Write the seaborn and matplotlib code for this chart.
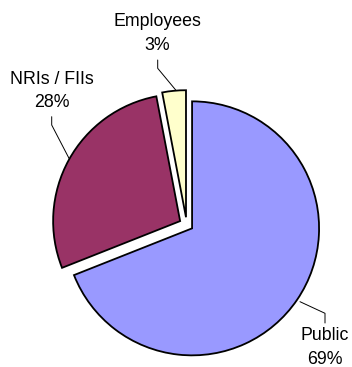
import matplotlib
matplotlib.use("Agg")
import matplotlib.pyplot as plt
import seaborn as sns

# ---- data ----
categories = ["Public", "NRIs / FIIs", "Employees"]
shares = [69, 28, 3]
colors = ["#9999FF", "#993366", "#FFFFCC"]

sns.set_theme(style="white")
plt.rcParams["font.family"] = ["Liberation Sans", "DejaVu Sans"]

W, H = 352, 367
fig = plt.figure(figsize=(W / 100, H / 100), dpi=100)
ax = fig.add_axes([0, 0, 1, 1])
ax.set_xlim(0, W)
ax.set_ylim(0, H)
ax.set_axis_off()

def Y(v):  # image pixel row -> data y
    return H - v

center = (186.7, Y(224.7))
radius = 127
explode = [6.5, 7.5, 7.5]

ax.pie(shares, colors=colors, startangle=90, counterclock=False,
       center=center, radius=radius, explode=explode,
       wedgeprops=dict(edgecolor="black", linewidth=1.3))
ax.set_xlim(0, W)
ax.set_ylim(0, H)
ax.set_aspect("auto")

# label layout (image pixel coords): text centre x, first line y, leader polyline
layout = {
    "Employees": dict(x=157, y=22, line=[(157.7, 60), (157.7, 68.3), (175.7, 90)]),
    "NRIs / FIIs": dict(x=52, y=79, line=[(51.7, 116.7), (51.7, 125), (69, 158.3)]),
    "Public": dict(x=325, y=336, line=[(300, 301.7), (325, 313.3), (325, 323)]),
}

for cat, val in zip(categories, shares):
    L = layout[cat]
    ax.text(L["x"], Y(L["y"]), cat, ha="center", va="center", fontsize=12.8, color="black")
    ax.text(L["x"], Y(L["y"] + 23.5), f"{val}%", ha="center", va="center", fontsize=12.8, color="black")
    xs = [p[0] for p in L["line"]]
    ys = [Y(p[1]) for p in L["line"]]
    ax.plot(xs, ys, color="black", linewidth=0.7)

fig.savefig("out.png", dpi=100)
